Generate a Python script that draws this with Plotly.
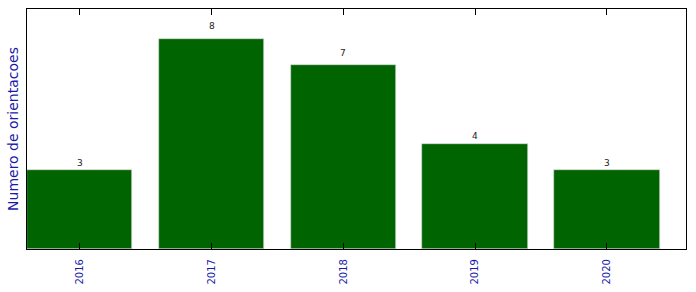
import plotly.graph_objects as go

years = ["2016", "2017", "2018", "2019", "2020"]
counts = [3, 8, 7, 4, 3]

fig = go.Figure()
fig.add_trace(go.Bar(
    x=list(range(len(years))), y=counts, width=0.8,
    marker=dict(color="#006400", line=dict(color="#dddddd", width=0.6)),
))

for i, v in enumerate(counts):
    fig.add_annotation(x=i, y=v * 1.05, text=str(v), showarrow=False,
                       yanchor="bottom", yshift=-3, borderpad=0,
                       font=dict(family="DejaVu Sans", size=9, color="#222222"))

fig.update_layout(
    width=696, height=292,
    margin=dict(l=27, r=10, t=9, b=43),
    plot_bgcolor="white", paper_bgcolor="white",
    showlegend=False, bargap=0,
    font=dict(family="DejaVu Sans"),
)
fig.update_xaxes(
    range=[-0.4, 4.6], tickmode="array", tickvals=list(range(len(years))), ticktext=years,
    tickangle=-90, tickfont=dict(size=10, color="#1a1aaa"), ticklabelstandoff=5,
    ticks="inside", ticklen=6, tickcolor="black", showline=True, linecolor="black",
    linewidth=1.2, mirror="ticks", showgrid=False, zeroline=False, automargin=False,
)
fig.update_yaxes(
    range=[0, 9.15], showticklabels=False, ticks="", showline=True, linecolor="black",
    linewidth=1.2, mirror=True, showgrid=False, zeroline=False, automargin=False,
    title=dict(text="Numero de orientacoes", font=dict(size=14, color="#1a1aaa"), standoff=4),
)
fig.write_html("out.html")
